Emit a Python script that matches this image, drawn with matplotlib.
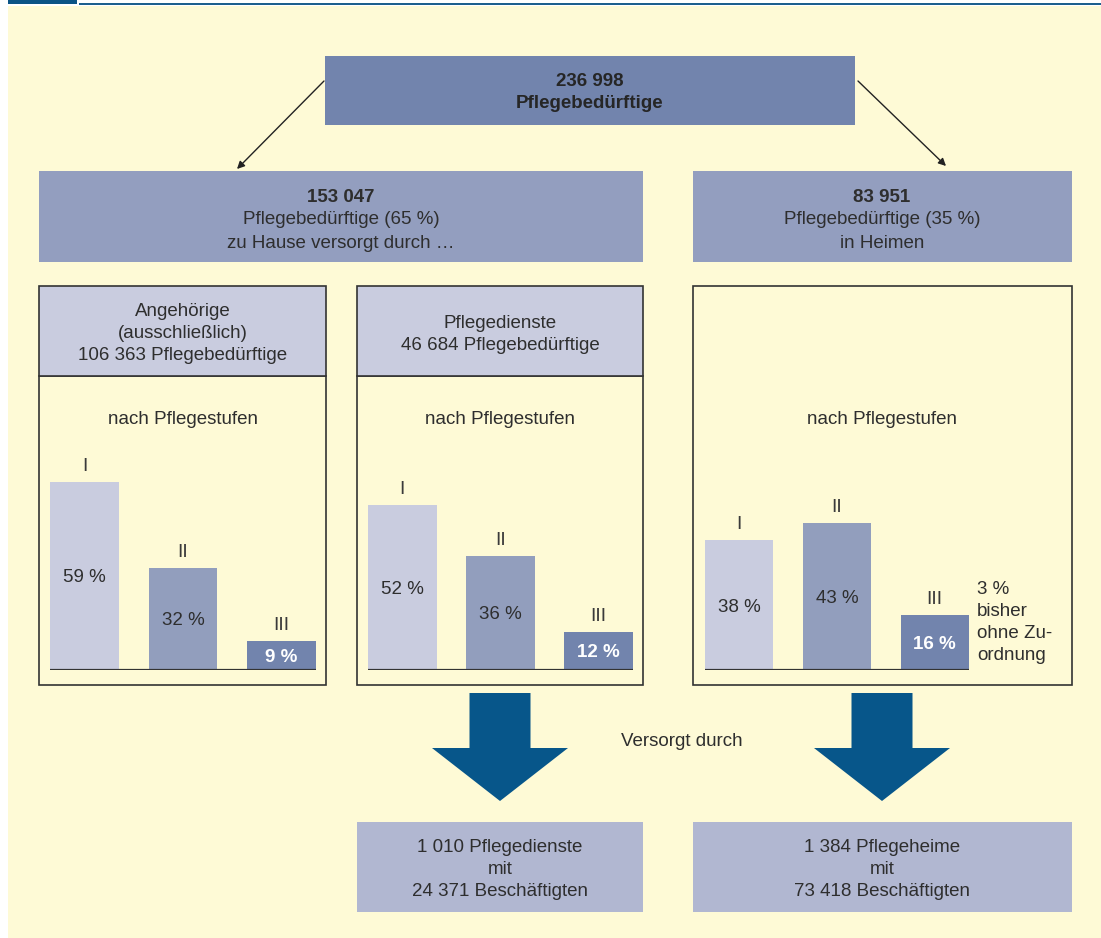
import matplotlib.pyplot as plt
from matplotlib.patches import Rectangle, Polygon

# data
stufen = ['I', 'II', 'III']
angehoerige_pct = [59, 32, 9]
pflegedienste_pct = [52, 36, 12]
heime_pct = [38, 43, 16]

W, H = 1101, 938
plt.rcParams['font.family'] = ['Liberation Sans', 'DejaVu Sans']

cream = '#fefad6'
c_top = '#7284ad'
c_mid = '#939ebf'
c_head = '#c9ccdf'
c_bottom = '#b1b7d1'
c_arrow = '#07568a'
txt = '#2e2e2e'
bar_colors = ['#c9ccdf', '#929ebd', '#7284ad']
FS = 13.5
VA = 'center_baseline'

fig = plt.figure(figsize=(W / 100, H / 100), dpi=100)
ax = fig.add_axes([0, 0, 1, 1])
ax.set_xlim(0, W)
ax.set_ylim(H, 0)
ax.axis('off')


def box(x0, y0, x1, y1, fc, ec='none', lw=0):
    ax.add_patch(Rectangle((x0, y0), x1 - x0, y1 - y0, facecolor=fc,
                           edgecolor=ec, linewidth=lw))


def lines(x, ys, texts, bold_first=False, size=FS):
    for i, (y, t) in enumerate(zip(ys, texts)):
        bold = bold_first and i == 0
        ax.text(x, y, t, ha='center', va=VA, fontsize=size, color=txt,
                fontweight='bold' if bold else 'normal')


# header strip and background
box(8, 0, 77, 4.5, '#0b5486')
box(79, 3.5, W, 5.5, '#1c5f8e')
box(8, 6, W, H, cream)

# top box
box(325, 56, 855, 125, c_top)
ax.text(590, 80, '236 998', ha='center', va=VA, fontsize=13.5,
        fontweight='bold', color='#262626')
ax.text(590, 102, 'Pflegebedürftige', ha='center', va=VA, fontsize=13.5,
        fontweight='bold', color='#262626')

# thin arrows
arr = dict(arrowstyle='-|>', lw=1, color='#222222', mutation_scale=11,
           shrinkA=0, shrinkB=0)
ax.annotate('', xy=(237, 169), xytext=(324, 81), arrowprops=arr)
ax.annotate('', xy=(946, 166), xytext=(858, 81), arrowprops=arr)

# second row
box(39, 171, 643, 262, c_mid)
lines(341, [195, 218, 241], ['153 047', 'Pflegebedürftige (65 %)',
                             'zu Hause versorgt durch …'], bold_first=True)
box(693, 171, 1072, 262, c_mid)
lines(882, [195, 218, 241], ['83 951', 'Pflegebedürftige (35 %)',
                             'in Heimen'], bold_first=True)

# panels
box(39, 376, 326, 685, 'none', ec='#333333', lw=1.2)
box(39, 286, 326, 376, c_head, ec='#333333', lw=1.2)
lines(182.5, [310, 332, 354], ['Angehörige', '(ausschließlich)',
                               '106 363 Pflegebedürftige'])
box(357, 376, 643, 685, 'none', ec='#333333', lw=1.2)
box(357, 286, 643, 376, c_head, ec='#333333', lw=1.2)
lines(500, [321, 343], ['Pflegedienste', '46 684 Pflegebedürftige'])
box(693, 286, 1072, 685, 'none', ec='#333333', lw=1.2)

for cx in [182.5, 500, 882]:
    ax.text(cx, 418, 'nach Pflegestufen', ha='center', va=VA,
            fontsize=FS, color=txt)


def bars(x0, x1, values, px_per_pct):
    base = 670
    h = 210
    bax = fig.add_axes([x0 / W, (H - base) / H, (x1 - x0) / W, h / H])
    bax.set_xlim(-0.35, 2.35)
    bax.set_ylim(0, h / px_per_pct)
    bax.axis('off')
    bax.patch.set_alpha(0)
    pos = range(len(values))
    bax.bar(pos, values, width=0.7, color=bar_colors)
    bax.axhline(0, color='#333333', lw=1.6)
    for i, v in enumerate(values):
        bax.annotate(stufen[i], (i, v), xytext=(0, 5),
                     textcoords='offset points', ha='center', va='bottom',
                     fontsize=14, color='#3a3a3a')
        last = i == len(values) - 1
        bax.text(i, v / 2, f'{v} %', ha='center', va=VA, fontsize=FS,
                 color='white' if last else txt,
                 fontweight='bold' if last else 'normal')


bars(50, 316, angehoerige_pct, 3.19)
bars(368, 633, pflegedienste_pct, 3.18)
bars(705, 969, heime_pct, 3.42)

for y, t in zip([587, 609, 632, 654], ['3 %', 'bisher', 'ohne Zu-', 'ordnung']):
    ax.text(977, y, t, ha='left', va=VA, fontsize=FS, color=txt)

# block arrows
for cx in [500, 882]:
    ax.add_patch(Polygon([(cx - 30.5, 693), (cx + 30.5, 693), (cx + 30.5, 748),
                          (cx + 68, 748), (cx, 801), (cx - 68, 748),
                          (cx - 30.5, 748)], closed=True, facecolor=c_arrow,
                         edgecolor='none'))
ax.text(682, 740, 'Versorgt durch', ha='center', va=VA, fontsize=FS,
        color=txt)

# bottom boxes
box(357, 822, 643, 912, c_bottom)
lines(500, [846, 867, 890], ['1 010 Pflegedienste', 'mit',
                             '24 371 Beschäftigten'])
box(693, 822, 1072, 912, c_bottom)
lines(882, [846, 867, 890], ['1 384 Pflegeheime', 'mit',
                             '73 418 Beschäftigten'])

fig.savefig('out.png', dpi=100, facecolor='white')
